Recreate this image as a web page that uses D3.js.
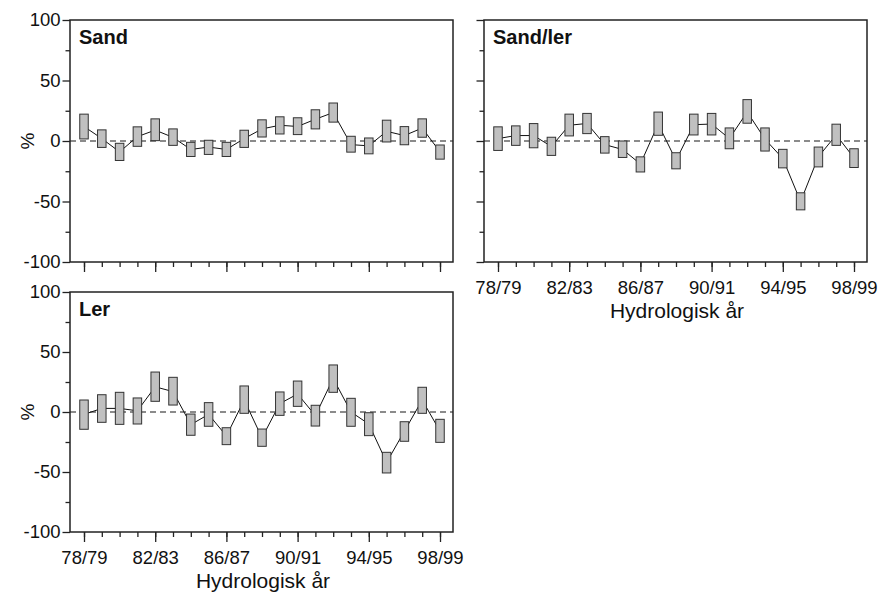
<!DOCTYPE html>
<html><head><meta charset="utf-8">
<script src="https://cdn.jsdelivr.net/npm/d3@7/dist/d3.min.js"></script>
<style>body{margin:0;background:#fff}svg{display:block}</style>
</head><body>
<svg id="c" width="886" height="596"></svg>
<script>
const years = ["78/79","79/80","80/81","81/82","82/83","83/84","84/85","85/86","86/87","87/88","88/89","89/90","90/91","91/92","92/93","93/94","94/95","95/96","96/97","97/98","98/99"];
const majorYears = ["78/79","82/83","86/87","90/91","94/95","98/99"];
const yMajorTicks = [-100,-50,0,50,100];
const yMinorTicks = [-75,-25,25,75];

const sandHigh = [22.2,9.2,-1.9,11.7,18.3,10,-1.1,0.6,-1.1,8.9,17.5,20,19.2,25.8,31.4,3.9,2.5,17.2,11.9,18.3,-3.3];
const sandLow  = [1.7,-5.3,-16.1,-4.4,0.3,-3.6,-12.8,-11.1,-12.8,-5.3,3.3,5.8,5.3,10,15.6,-9.2,-10.6,-0.8,-3.1,3.1,-15];
const sandMean = [12,2,-9,3.6,9,3,-7,-5,-7,2,10,13,12,18,23.5,-3,-4,8,4.5,10.7,-9];

const sandLerHigh = [11.7,12.5,14.4,3.1,22.2,22.8,3.6,0,-13.1,23.9,-9.7,22.2,22.8,10.8,34.2,10.8,-6.9,-42.8,-5,13.9,-6.4];
const sandLerLow  = [-7.8,-3.6,-5.6,-11.9,4.2,6.1,-10,-13.6,-25.6,4.7,-23,5,5,-6.4,14.7,-8.3,-22.2,-56.9,-21.4,-3.6,-21.9];
const sandLerMean = [2,4.5,4.5,-4.5,13,14.5,-3,-7,-19,14,-16,13.5,14,2,24,1.5,-14.5,-50,-13,5,-14];

const lerHigh = [10,14.4,16.4,11.7,33.3,28.9,-1.7,7.8,-13.1,21.7,-14.2,16.7,25.8,5.6,39.2,11.4,-0.6,-33.6,-8.1,20.6,-6.1];
const lerLow  = [-14.4,-8.6,-10.3,-10,8.9,5.8,-19.4,-11.9,-27.2,-1.1,-28.6,-2.8,4.7,-11.7,16.4,-11.9,-19.7,-50.8,-24.4,-1.1,-25.3];
const lerMean = [-2,3,3,1,21,17,-10.5,-2,-20,10,-21.5,7,15,-3,28,0,-10,-42,-16,10,-16];

const panelNames = ["Sand","Sand/ler","Ler"];
const xTitle = "Hydrologisk år";
const yTitle = "%";

const svg = d3.select("#c");
const FONT = "'Liberation Sans', Arial, Helvetica, sans-serif";

const panels = [
  {name: panelNames[0], hi: sandHigh, lo: sandLow, mean: sandMean, x0: 70, x1: 453, y0: 20, y1: 262, xLabels: false, yLabels: true},
  {name: panelNames[1], hi: sandLerHigh, lo: sandLerLow, mean: sandLerMean, x0: 484, x1: 867, y0: 20, y1: 262, xLabels: true, yLabels: false},
  {name: panelNames[2], hi: lerHigh, lo: lerLow, mean: lerMean, x0: 70, x1: 453, y0: 292, y1: 532, xLabels: true, yLabels: true}
];

panels.forEach(p => {
  const x = d3.scalePoint().domain(years).range([p.x0 + 14, p.x1 - 13]);
  const y = d3.scaleLinear().domain([-100, 100]).range([p.y1, p.y0]);
  const g = svg.append("g");

  // zero dashed line
  g.append("line")
    .attr("x1", p.x0).attr("x2", p.x1)
    .attr("y1", y(0)).attr("y2", y(0))
    .attr("stroke", "#666").attr("stroke-width", 1.3)
    .attr("stroke-dasharray", "6,4");

  const data = years.map((yr, i) => ({yr, hi: p.hi[i], lo: p.lo[i], m: p.mean[i]}));
  g.append("path")
    .datum(data)
    .attr("fill", "none").attr("stroke", "#111").attr("stroke-width", 1)
    .attr("d", d3.line().x(d => x(d.yr)).y(d => y(d.m)));

  g.selectAll("rect.box").data(data).enter().append("rect")
    .attr("class", "box")
    .attr("x", d => x(d.yr) - 4.25)
    .attr("width", 8.5)
    .attr("y", d => y(d.hi))
    .attr("height", d => y(d.lo) - y(d.hi))
    .attr("fill", "#c0c0c0").attr("stroke", "#333").attr("stroke-width", 1);

  g.append("rect")
    .attr("x", p.x0).attr("y", p.y0)
    .attr("width", p.x1 - p.x0).attr("height", p.y1 - p.y0)
    .attr("fill", "none").attr("stroke", "#222").attr("stroke-width", 1.5);

  const xMinor = g.append("g").attr("transform", `translate(0,${p.y1})`)
    .call(d3.axisBottom(x).tickSize(5).tickFormat(""));
  xMinor.select(".domain").remove();
  xMinor.selectAll("line").attr("stroke", "#222").attr("stroke-width", 1.3);
  const xMajor = g.append("g").attr("transform", `translate(0,${p.y1})`)
    .call(d3.axisBottom(x).tickValues(majorYears).tickSize(10).tickPadding(9)
      .tickFormat(p.xLabels ? (d => d) : ""));
  xMajor.select(".domain").remove();
  xMajor.selectAll("line").attr("stroke", "#222").attr("stroke-width", 1.3);
  xMajor.selectAll("text").attr("font-family", FONT).attr("font-size", "18.5px").attr("fill", "#111");

  const yMinor = g.append("g").attr("transform", `translate(${p.x0},0)`)
    .call(d3.axisLeft(y).tickValues(yMinorTicks).tickSize(4.5).tickFormat(""));
  yMinor.select(".domain").remove();
  yMinor.selectAll("line").attr("stroke", "#222").attr("stroke-width", 1.3);
  const yMajor = g.append("g").attr("transform", `translate(${p.x0},0)`)
    .call(d3.axisLeft(y).tickValues(yMajorTicks).tickSize(7.5).tickPadding(2)
      .tickFormat(p.yLabels ? (d => d3.format("d")(d).replace("−", "-")) : ""));
  yMajor.select(".domain").remove();
  yMajor.selectAll("line").attr("stroke", "#222").attr("stroke-width", 1.3);
  yMajor.selectAll("text").attr("font-family", FONT).attr("font-size", "18.5px").attr("fill", "#111");

  g.append("text")
    .attr("x", p.x0 + 9).attr("y", p.y0 + 24)
    .attr("font-family", FONT).attr("font-weight", "bold").attr("font-size", "20px")
    .attr("fill", "#111").text(p.name);

  if (p.yLabels) {
    g.append("text")
      .attr("transform", `translate(${27},${y(0)}) rotate(-90)`)
      .attr("text-anchor", "middle").attr("dy", "0.35em")
      .attr("font-family", FONT).attr("font-size", "19px").attr("fill", "#111")
      .text(yTitle);
  }
  if (p.xLabels) {
    g.append("text")
      .attr("x", (p.x0 + p.x1) / 2 + 1.5).attr("y", p.y1 + 55.5)
      .attr("text-anchor", "middle")
      .attr("font-family", FONT).attr("font-size", "21px").attr("fill", "#111")
      .text(xTitle);
  }
});
</script>
</body></html>
